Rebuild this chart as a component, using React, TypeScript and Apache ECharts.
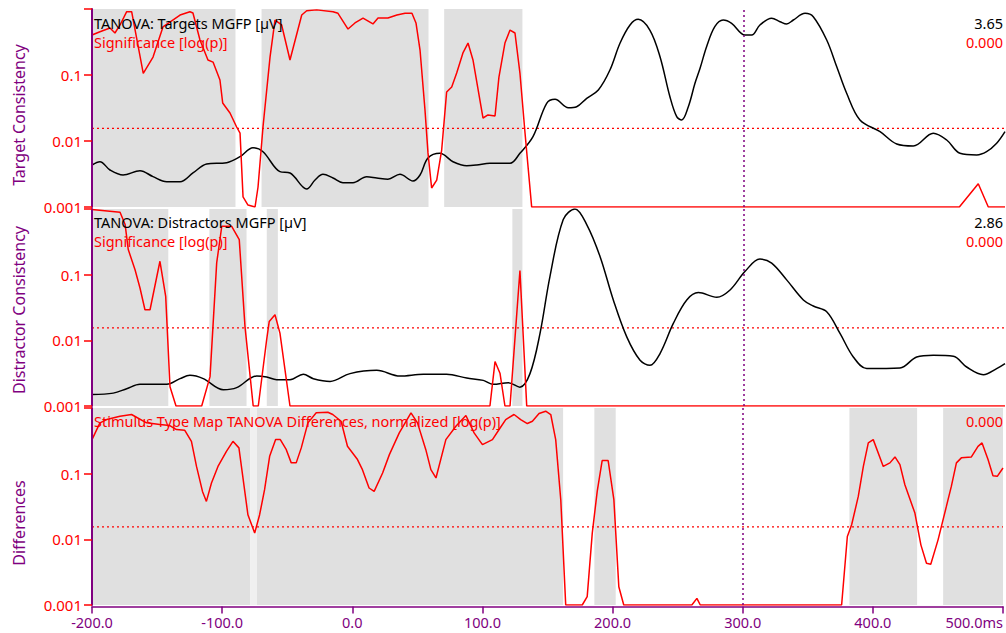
import React, { useEffect, useRef } from "react";
import * as echarts from "echarts";

// ---------- data (ms, value) ----------
const xTickLabels = ["-200.0", "-100.0", "0.0", "100.0", "200.0", "300.0", "400.0", "500.0ms"];
const yTickLabels = ["0.001", "0.01", "0.1"];
const threshold = 0.0155;
const cursorMs = 300;
const targetMax = 3.65;
const distractorMax = 2.86;

const targetSig: number[][] = [
  [-200, 0.404], [-193.9, 0.453], [-186.2, 0.515], [-182.4, 0.433], [-178.5, 0.573], [-173.4, 0.91], [-169.6, 0.91],
  [-160.7, 0.106], [-153.2, 0.187], [-145.6, 0.534], [-132.5, 0.81], [-124.9, 0.91], [-122.6, 0.87], [-117.2, 0.339],
  [-111.1, 0.169], [-107.2, 0.157], [-101.9, 0.084], [-99.8, 0.0377], [-94.2, 0.0266], [-89.1, 0.0163], [-86.5, 0.0132],
  [-84.2, 0.00142], [-80.4, 0.00107], [-75, 0.001], [-72.7, 0.00201], [-68.9, 0.0163], [-63.5, 0.187], [-59.7, 0.68],
  [-54.6, 0.573], [-48.2, 0.169], [-39.2, 0.81], [-35.4, 0.94], [-27.7, 0.97], [-15.2, 0.91], [-11.4, 0.86], [-3.7, 0.497],
  [1.6, 0.614], [7.8, 0.73], [15.4, 0.593], [19.3, 0.73], [26.9, 0.73], [33.8, 0.81], [40, 0.86], [45.3, 0.86], [48.4, 0.614],
  [51.5, 0.239], [55.3, 0.0295], [57.6, 0.0066], [60.4, 0.00194], [64.3, 0.00256], [68.1, 0.0073], [71.9, 0.0553],
  [75.8, 0.0658], [79.6, 0.107], [84.4, 0.216], [88.3, 0.305], [92.1, 0.169], [99.8, 0.0223], [103.6, 0.0248], [109, 0.0239],
  [112, 0.093], [116.6, 0.305], [120.5, 0.48], [124.3, 0.433], [128.1, 0.107], [132, 0.0132], [137.1, 0.001], [465, 0.001],
  [479.5, 0.00225], [487.2, 0.001], [500, 0.001],
];

const targetMgfp: number[][] = [
  [-200, 0.774], [-193.9, 0.835], [-186.2, 0.682], [-176.2, 0.59], [-163.2, 0.669], [-153.2, 0.559], [-142.7, 0.466],
  [-132.5, 0.466], [-122.6, 0.627], [-112.1, 0.793], [-96.7, 0.817], [-86.5, 0.927], [-76.6, 1.093], [-68.9, 1.019],
  [-55.9, 0.651], [-48.2, 0.627], [-35.4, 0.332], [-29, 0.498], [-22.9, 0.603], [-15.2, 0.535], [-7.6, 0.448], [0.1, 0.448],
  [10.6, 0.559], [18.3, 0.535], [26.9, 0.511], [36.1, 0.603], [46.1, 0.479], [51.5, 0.59], [57.6, 0.903], [66.8, 0.99],
  [76.8, 0.835], [87.3, 0.761], [94.9, 0.774], [105.1, 0.806], [120.5, 0.806], [128.1, 0.99], [138.1, 1.296], [148.6, 1.912],
  [155, 1.985], [165.2, 1.83], [171.6, 1.849], [179.3, 2.004], [188.2, 2.157], [197.1, 2.525], [204.8, 3.018], [212.5, 3.355],
  [218.8, 3.46], [227.8, 3.258], [235.5, 2.771], [243.1, 2.033], [248.3, 1.665], [252.1, 1.604], [257.2, 1.849], [262.3, 2.28],
  [266.2, 2.557], [271.2, 2.955], [277.5, 3.324], [283.9, 3.447], [290.4, 3.386], [300.6, 3.171], [305.8, 3.171], [312.1, 3.355],
  [321.1, 3.479], [327.5, 3.416], [332.6, 3.373], [337.7, 3.447], [346.7, 3.571], [353, 3.508], [363.3, 3.078], [371, 2.586],
  [378.6, 2.096], [388.8, 1.604], [404.2, 1.388], [417, 1.161], [429.7, 1.124], [445, 1.359], [455.3, 1.235], [465.5, 0.99],
  [478.3, 0.959], [485.9, 1.019], [493.6, 1.174], [500, 1.388],
];

const distSig: number[][] = [
  [-200, 0.98], [-178.5, 0.894], [-174.6, 0.58], [-172.2, 0.241], [-167, 0.119], [-163.2, 0.0627], [-159.4, 0.0292],
  [-155.5, 0.0292], [-147.9, 0.16], [-143.5, 0.0467], [-140.2, 0.00197], [-135.6, 0.001], [-115.9, 0.001], [-109.5, 0.0028],
  [-104.4, 0.151], [-100.5, 0.546], [-92.9, 0.546], [-87.1, 0.342], [-82.7, 0.0162], [-76.4, 0.001], [-72.5, 0.001],
  [-66.1, 0.0102], [-64.1, 0.0194], [-59.7, 0.0245], [-55.9, 0.0129], [-48.2, 0.001], [105.1, 0.001], [109, 0.00475],
  [112.8, 0.00316], [116.6, 0.001], [120.5, 0.001], [128.1, 0.116], [133.3, 0.001], [500, 0.001],
];

const distMgfp: number[][] = [
  [-200, 0.168], [-183.7, 0.187], [-173.4, 0.251], [-163.2, 0.314], [-142.7, 0.314], [-132.5, 0.397], [-124.9, 0.445],
  [-114.7, 0.397], [-99.3, 0.236], [-89.1, 0.266], [-73.7, 0.435], [-66.1, 0.42], [-58.4, 0.382], [-48.2, 0.382], [-38, 0.46],
  [-30.3, 0.397], [-17.5, 0.357], [-2.2, 0.47], [18.3, 0.518], [36.1, 0.435], [54, 0.46], [71.9, 0.46], [87.3, 0.406],
  [100, 0.372], [107.7, 0.314], [119.2, 0.339], [128.1, 0.274], [135.8, 0.47], [143.5, 1.054], [151.1, 1.879], [161.3, 2.707],
  [170.3, 2.86], [179.3, 2.634], [189.5, 2.171], [199.7, 1.539], [210, 1.004], [220.2, 0.664], [227.8, 0.591], [235.5, 0.762],
  [245.7, 1.199], [256, 1.539], [264.9, 1.646], [279, 1.579], [289.2, 1.685], [300.6, 1.952], [312.1, 2.133], [321.1, 2.075],
  [332.6, 1.831], [345.4, 1.539], [353, 1.452], [363.3, 1.369], [373.5, 1.054], [383.7, 0.712], [394, 0.543], [419.5, 0.552],
  [432.3, 0.712], [445, 0.737], [460.4, 0.722], [470.6, 0.566], [483.4, 0.455], [493.6, 0.543], [500, 0.616],
];

const diffSig: number[][] = [
  [-200, 0.33], [-193.9, 0.594], [-188.7, 0.667], [-178.5, 0.749], [-169.6, 0.796], [-158.1, 0.594], [-147.9, 0.56],
  [-140.2, 0.541], [-135.1, 0.47], [-128.7, 0.458], [-123.6, 0.311], [-119.7, 0.129], [-115.1, 0.0537], [-112.1, 0.0378],
  [-108.2, 0.0721], [-103.2, 0.129], [-96.7, 0.219], [-91.7, 0.311], [-87.1, 0.247], [-80.2, 0.0237], [-75, 0.01244],
  [-71.2, 0.0237], [-67.4, 0.057], [-63.5, 0.184], [-58.9, 0.33], [-55.3, 0.33], [-50.7, 0.232], [-46.9, 0.146], [-43.1, 0.146],
  [-39.2, 0.247], [-34.1, 0.594], [-27.7, 0.845], [-18.8, 0.863], [-15, 0.796], [-8.6, 0.629], [-3.7, 0.261], [4, 0.164],
  [7.8, 0.115], [12.9, 0.0605], [16.8, 0.0537], [23.3, 0.1025], [28.5, 0.195], [36.1, 0.418], [45.1, 0.845], [50.1, 0.594],
  [56.5, 0.232], [60.4, 0.115], [64.3, 0.086], [71.9, 0.33], [79.6, 0.527], [87.3, 0.768], [93.6, 0.418], [100, 0.277],
  [107.7, 0.33], [112.8, 0.47], [117.9, 0.667], [124.3, 0.796], [129.4, 0.667], [134.5, 0.58], [138.4, 0.629], [143.5, 0.824],
  [148.6, 0.894], [152.5, 0.796], [156.3, 0.33], [160.2, 0.0401], [164, 0.001], [176.7, 0.001], [180.5, 0.00134],
  [184.4, 0.01244], [188.2, 0.0537], [192, 0.158], [196.6, 0.158], [201, 0.0401], [204.8, 0.0019], [208.6, 0.001],
  [260.9, 0.001], [264.8, 0.00126], [267.4, 0.001], [376, 0.001], [380.4, 0.01104], [383.7, 0.01665], [388.8, 0.045],
  [392.7, 0.129], [396.5, 0.294], [400.3, 0.33], [408, 0.129], [413.1, 0.146], [417, 0.18], [420.8, 0.137], [424.6, 0.0679],
  [432.3, 0.0251], [436.9, 0.00824], [441.2, 0.00433], [444.5, 0.00418], [450.1, 0.00982], [456.5, 0.0317], [460.3, 0.064],
  [464.2, 0.146], [468, 0.174], [475.7, 0.18], [480.8, 0.261], [483.9, 0.294], [488.5, 0.164], [492.3, 0.093], [495.6, 0.091],
  [500, 0.122],
];

// non-significant intervals (grey)
const targetShade: number[][] = [[-200, -90], [-70, 58], [70, 130]];
const distShade: number[][] = [[-200, -141.5], [-110, -81.5], [-66, -57.5], [122.3, 130]];
const diffShade: number[][] = [[-200, -78.3], [-73.2, 162], [186, 202.4], [382, 434], [454, 500]];
const diffHatch: number[][] = [[-78.3, -73.2]];

const PURPLE = "#800080";
const RED = "#ff0000";
const GREY = "#e0e0e0";
const FONT = "Noto Sans";

export default function App() {
  const ref = useRef<HTMLDivElement>(null);
  useEffect(() => {
    if (!ref.current) return;
    const chart = echarts.init(ref.current, undefined, { renderer: "svg" });

    const grids = [
      { left: 92, right: 1, top: 9, height: 198 },
      { left: 92, right: 1, top: 209, height: 197 },
      { left: 92, right: 1, top: 408, height: 197 },
    ];

    const xAxes = grids.map((_, i) => ({
      type: "value",
      gridIndex: i,
      min: -200,
      max: 500,
      interval: 100,
      offset: i === 2 ? 1.5 : 0,
      z: 10,
      axisLine: { show: i === 2, onZero: false, lineStyle: { color: PURPLE, width: 1.5 } },
      axisTick: { show: i === 2, length: 7, lineStyle: { color: PURPLE, width: 1.5 } },
      axisLabel: {
        show: i === 2,
        color: PURPLE,
        fontSize: 14.5,
        fontFamily: FONT,
        margin: 8,
        alignMaxLabel: "right",
        formatter: (v: number) => xTickLabels[Math.round((v + 200) / 100)] ?? "",
      },
      splitLine: { show: false },
    }));

    const logAxes = grids.map((_, i) => ({
      type: "log",
      gridIndex: i,
      min: 0.001,
      max: 1,
      logBase: 10,
      z: 10,
      axisLine: { show: true, onZero: false, lineStyle: { color: PURPLE, width: 2 } },
      axisTick: { show: true, length: 8, lineStyle: { color: RED, width: 1.5 } },
      axisLabel: {
        color: RED,
        fontSize: 15,
        fontFamily: FONT,
        margin: 10,
        formatter: (v: number) => {
          const e = Math.round(Math.log10(v)) + 3;
          return yTickLabels[e] ?? "";
        },
      },
      splitLine: { show: false },
    }));

    const mgfpAxes = [targetMax, distractorMax].map((m, i) => ({
      type: "value",
      gridIndex: i,
      min: 0,
      max: m,
      show: false,
      splitLine: { show: false },
    }));

    const shadeSeries = (i: number, shade: number[][], color: string) => ({
      type: "line",
      xAxisIndex: i,
      yAxisIndex: i,
      data: [[-200, 0.001]],
      showSymbol: false,
      lineStyle: { width: 0, opacity: 0 },
      z: 1,
      silent: true,
      markArea: {
        silent: true,
        itemStyle: { color },
        data: shade.map(([a, b]) => [{ xAxis: a, itemStyle: { color } }, { xAxis: b }]),
      },
    });

    const thresholdSeries = (i: number) => ({
      type: "line",
      xAxisIndex: i,
      yAxisIndex: i,
      data: [[-200, threshold], [500, threshold]],
      showSymbol: false,
      silent: true,
      lineStyle: { color: RED, type: [2, 3], width: 1.3 },
      z: 2,
      markLine: {
        silent: true,
        symbol: ["none", "none"],
        label: { show: false },
        data: [{ xAxis: cursorMs, lineStyle: { color: PURPLE, type: [2, 3], width: 1.5 } }],
      },
    });

    const redSeries = (i: number, data: number[][]) => ({
      type: "line",
      xAxisIndex: i,
      yAxisIndex: i,
      data,
      showSymbol: false,
      lineStyle: { color: RED, width: 1.5 },
      z: 4,
    });

    const blackSeries = (i: number, data: number[][]) => ({
      type: "line",
      xAxisIndex: i,
      yAxisIndex: 3 + i,
      data,
      showSymbol: false,
      smooth: 0.35,
      lineStyle: { color: "#000000", width: 1.5 },
      z: 3,
    });

    const txt = (x: number, y: number, text: string, color: string, align = "left") => ({
      type: "text",
      x,
      y,
      z: 100,
      style: { text, fill: color, font: `14.5px "${FONT}"`, align, verticalAlign: "middle" },
    });

    const vtxt = (x: number, y: number, text: string) => ({
      type: "text",
      x,
      y,
      rotation: Math.PI / 2,
      z: 100,
      style: { text, fill: PURPLE, font: `16px "${FONT}"`, align: "center", verticalAlign: "middle" },
    });

    chart.setOption({
      animation: false,
      grid: grids,
      xAxis: xAxes,
      yAxis: [...logAxes, ...mgfpAxes],
      series: [
        shadeSeries(0, targetShade, GREY),
        shadeSeries(1, distShade, GREY),
        shadeSeries(2, diffShade, GREY),
        shadeSeries(2, diffHatch, "#f0f0f0"),
        thresholdSeries(0),
        thresholdSeries(1),
        thresholdSeries(2),
        blackSeries(0, targetMgfp),
        blackSeries(1, distMgfp),
        redSeries(0, targetSig),
        redSeries(1, distSig),
        redSeries(2, diffSig),
      ],
      graphic: [
        txt(94, 23, "TANOVA: Targets MGFP [µV]", "#000000"),
        txt(94, 42, "Significance [log(p)]", RED),
        txt(1003, 23, "3.65", "#000000", "right"),
        txt(1003, 42, "0.000", RED, "right"),
        txt(94, 222, "TANOVA: Distractors MGFP [µV]", "#000000"),
        txt(94, 241, "Significance [log(p)]", RED),
        txt(1003, 222, "2.86", "#000000", "right"),
        txt(1003, 241, "0.000", RED, "right"),
        txt(94, 421, "Stimulus Type Map TANOVA Differences, normalized [log(p)]", RED),
        txt(1003, 421, "0.000", RED, "right"),
        vtxt(19, 115, "Target Consistency"),
        vtxt(19, 310, "Distractor Consistency"),
        vtxt(19, 523, "Differences"),
      ],
    });
    return () => chart.dispose();
  }, []);
  return (
    <div
      ref={ref}
      style={{ position: "fixed", left: 0, top: 0, width: 1006, height: 633, background: "#ffffff" }}
    />
  );
}
